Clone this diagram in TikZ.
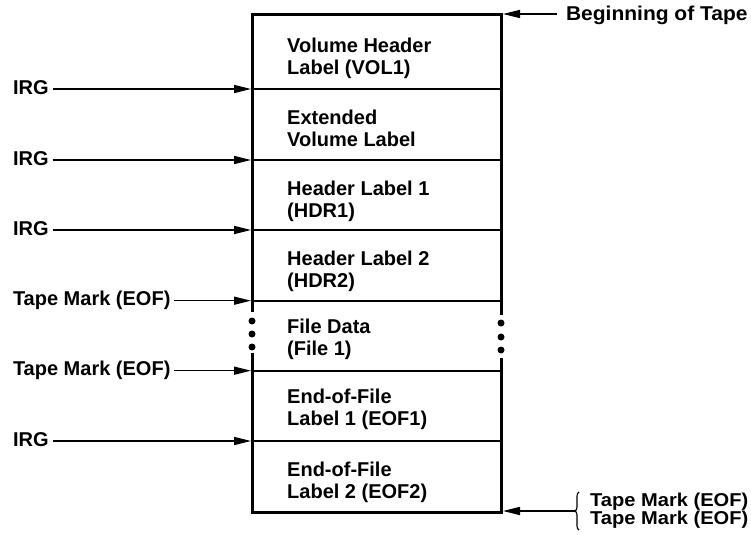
\documentclass[tikz,border=0pt]{standalone}
\usepackage{fontspec}
\setmainfont{Liberation Sans}
\newfontfamily\widesans[FakeStretch=1.08]{Liberation Sans}
\newfontfamily\slightlywide[FakeStretch=1.05]{Liberation Sans}
\usetikzlibrary{arrows.meta,decorations.pathreplacing}

% two left-aligned lines, baseline on the first one
\newcommand\fieldtext[2]{\begin{tabular}[t]{@{}l@{}}#1\\#2\end{tabular}}

\begin{document}
\begin{tikzpicture}[x=1bp,y=-1bp,
  txt/.style={font=\fontsize{20bp}{22bp}\selectfont\bfseries, inner sep=0pt},
  smalltxt/.style={font=\widesans\fontsize{18.6bp}{18bp}\selectfont\bfseries, inner sep=0pt},
  lab/.style={txt, outer xsep=4bp, anchor=base west},
  field/.style={txt, anchor=base west},
  ptr/.style={line width=1.5bp, -{Triangle[length=17bp,width=8bp]}},
  tapeedge/.style={line width=3bp},
  divider/.style={line width=1.8bp},
  gapdot/.style={circle, fill, inner sep=0pt, minimum size=7bp}
]
\useasboundingbox (0,0) rectangle (751,535);

% tape outline (side lines interrupted around the file data)
\draw[tapeedge, line cap=rect] (252,15) -- (501,15);
\draw[tapeedge, line cap=rect] (252,512) -- (501,512);
\draw[tapeedge] (252,15) -- (252,312);
\draw[tapeedge] (252,353) -- (252,512);
\draw[tapeedge] (501,15) -- (501,315);
\draw[tapeedge] (501,358) -- (501,512);

% block boundaries
\foreach \y in {89,160,230,300.7,370.7,441}
  \draw[divider] (252,\y) -- (501,\y);

% continuation dots
\foreach \y in {321,334,347} \node[gapdot] at (252,\y) {};
\foreach \y in {323,337,350} \node[gapdot] at (501,\y) {};

% block contents
\node[field] (vol)  at (287,52.5)  {\fieldtext{Volume Header}{Label (VOL1)}};
\node[field] (xvol) at (287,124.3) {\fieldtext{Extended}{Volume Label}};
\node[field] (hdr1) at (287,196)   {\fieldtext{Header Label 1}{(HDR1)}};
\node[field] (hdr2) at (287,265.5) {\fieldtext{Header Label 2}{(HDR2)}};
\node[field] (data) at (287,333.6) {\fieldtext{File Data}{(File 1)}};
\node[field] (eof1) at (287,403.5) {\fieldtext{End-of-File}{Label 1 (EOF1)}};
\node[field] (eof2) at (287,476)   {\fieldtext{End-of-File}{Label 2 (EOF2)}};

% points on the left side of the tape
\coordinate (p1) at (251,89);
\coordinate (p2) at (251,160);
\coordinate (p3) at (251,230);
\coordinate (p4) at (251,300.7);
\coordinate (p5) at (251,370.7);
\coordinate (p6) at (251,441);

% gap labels on the left (text starts 4bp right of the anchor)
\node[lab] (g1)  at (9,94.5)  {IRG};
\node[lab] (g2)  at (9,165.5) {IRG};
\node[lab] (g3)  at (9,235.5) {IRG};
\node[lab] (tm1) at (9,305.7) {Tape Mark (EOF)};
\node[lab] (tm2) at (9,375.7) {Tape Mark (EOF)};
\node[lab] (g4)  at (9,446.5) {IRG};

\draw[ptr] (g1.east |- p1) -- (p1);
\draw[ptr] (g2.east |- p2) -- (p2);
\draw[ptr] (g3.east |- p3) -- (p3);
\draw[ptr] (tm1.east |- p4) -- (p4);
\draw[ptr] (tm2.east |- p5) -- (p5);
\draw[ptr] (g4.east |- p6) -- (p6);

% beginning of tape
\coordinate (bt) at (503,14);
\node[txt, font=\slightlywide\fontsize{20bp}{22bp}\selectfont\bfseries, anchor=base west, outer xsep=9bp] (bot) at (557,21) {Beginning of Tape};
\draw[ptr] (bot.west |- bt) -- (bt);

% two tape marks at the end
\coordinate (et) at (503,511);
\coordinate (brtip) at (575,511);
\node[smalltxt, anchor=base west] (tm3) at (590,506)   {Tape Mark (EOF)};
\node[smalltxt, anchor=base west] (tm4) at (590,524.5) {Tape Mark (EOF)};
\draw[line width=1.1bp, decorate, decoration={brace, amplitude=4bp}] (579,530) -- (579,492);
\draw[ptr] (brtip) -- (et);
\end{tikzpicture}
\end{document}
